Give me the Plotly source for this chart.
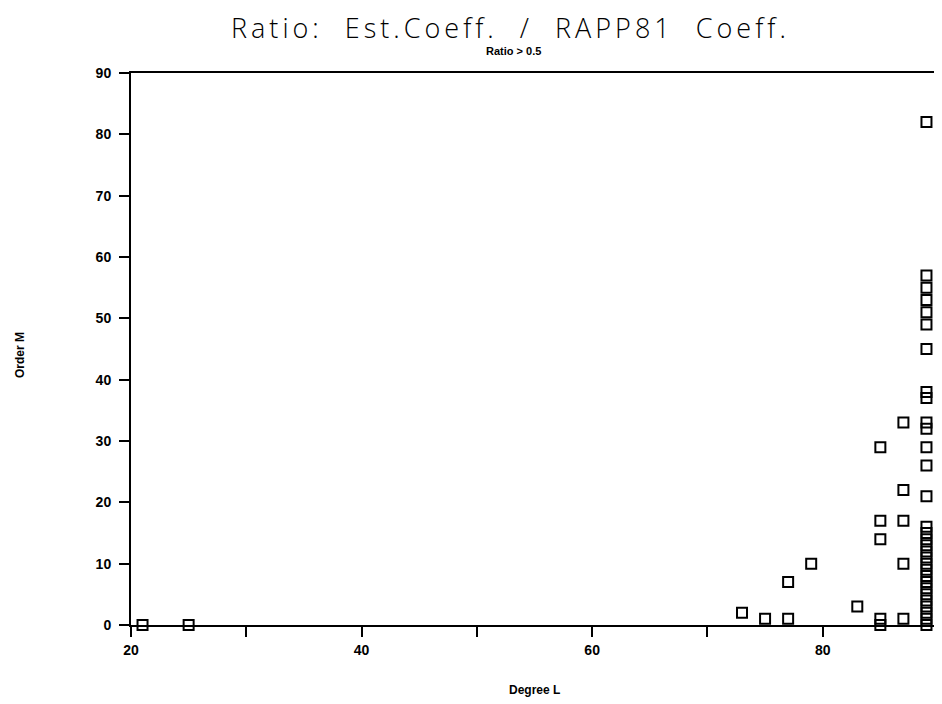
import plotly.graph_objects as go

# Degree L / Order M pairs (ratio > 0.5)
degree_L = [21, 25, 73, 75, 77, 77, 79, 83,
            85, 85, 85, 85, 85,
            87, 87, 87, 87, 87] + [89] * 31
order_M = [0, 0, 2, 1, 1, 7, 10, 3,
           0, 1, 14, 17, 29,
           1, 10, 17, 22, 33] + [0, 1, 2, 3, 4, 5, 6, 7, 8, 9, 10, 11, 12, 13, 14, 15, 16,
                                 21, 26, 29, 32, 33, 37, 38, 45, 49, 51, 53, 55, 57, 82]

x_tickvals = [20, 30, 40, 50, 60, 70, 80, 90]
x_ticktext = ["20", "", "40", "", "60", "", "80", ""]
y_tickvals = [0, 10, 20, 30, 40, 50, 60, 70, 80, 90]

fig = go.Figure()
fig.add_trace(go.Scatter(
    x=degree_L, y=order_M, mode="markers",
    marker=dict(symbol="square-open", size=10, color="black",
                line=dict(width=2, color="black")),
    cliponaxis=False, showlegend=False))

OFF = 8  # page body margin
W, H = 942 - OFF, 704 - OFF
# target plot area in screen px: left 131, right 938, top 73, bottom 625
L, T = 131 - OFF, 73 - OFF
R = (OFF + W) - 938
B = (OFF + H) - 625
pw = W - L - R
ph = H - T - B


def px(xs):
    return (xs - 131) / pw


def py(ys):
    return (625 - ys) / ph


fig.update_layout(
    width=W, height=H,
    margin=dict(l=L, r=R, t=T, b=B, autoexpand=False),
    paper_bgcolor="white", plot_bgcolor="white",
    font=dict(family="Liberation Sans", color="black"),
    showlegend=False,
)
tickfont = dict(family="Liberation Sans", size=14, weight="bold", color="black")
fig.update_xaxes(
    range=[20, 90], tickmode="array", tickvals=x_tickvals, ticktext=x_ticktext,
    ticks="outside", ticklen=10, tickwidth=2, tickcolor="black",
    showline=True, linecolor="black", linewidth=2, mirror=True,
    showgrid=False, zeroline=False, tickfont=tickfont, ticklabelstandoff=1)
fig.update_yaxes(
    range=[0, 90], tickmode="array", tickvals=y_tickvals,
    ticks="outside", ticklen=10, tickwidth=2, tickcolor="black",
    showline=True, linecolor="black", linewidth=2, mirror=True,
    showgrid=False, zeroline=False, tickfont=tickfont, ticklabelstandoff=5)

title_txt = "Ratio:\u00a0 Est.Coeff.\u00a0 /\u00a0 RAPP81\u00a0 Coeff."
fig.add_annotation(text='<span style="letter-spacing:4px">' + title_txt + '</span>',
                   xref="paper", yref="paper",
                   x=px(510), y=py(27), showarrow=False,
                   xanchor="center", yanchor="middle",
                   font=dict(family="Open Sans", size=27, weight=300, color="black"))
fig.add_annotation(text="Ratio > 0.5", xref="paper", yref="paper",
                   x=px(513), y=py(51), showarrow=False,
                   xanchor="center", yanchor="middle",
                   font=dict(family="Liberation Sans", size=11, weight="bold", color="black"))
fig.add_annotation(text="Degree L", xref="paper", yref="paper",
                   x=px(534), y=py(690), showarrow=False,
                   xanchor="center", yanchor="middle",
                   font=dict(family="Liberation Sans", size=12, weight="bold", color="black"))
fig.add_annotation(text="Order M", xref="paper", yref="paper",
                   x=px(20), y=py(355), showarrow=False,
                   xanchor="center", yanchor="middle", textangle=-90,
                   font=dict(family="Liberation Sans", size=12, weight="bold", color="black"))

fig.write_html("out.html")
